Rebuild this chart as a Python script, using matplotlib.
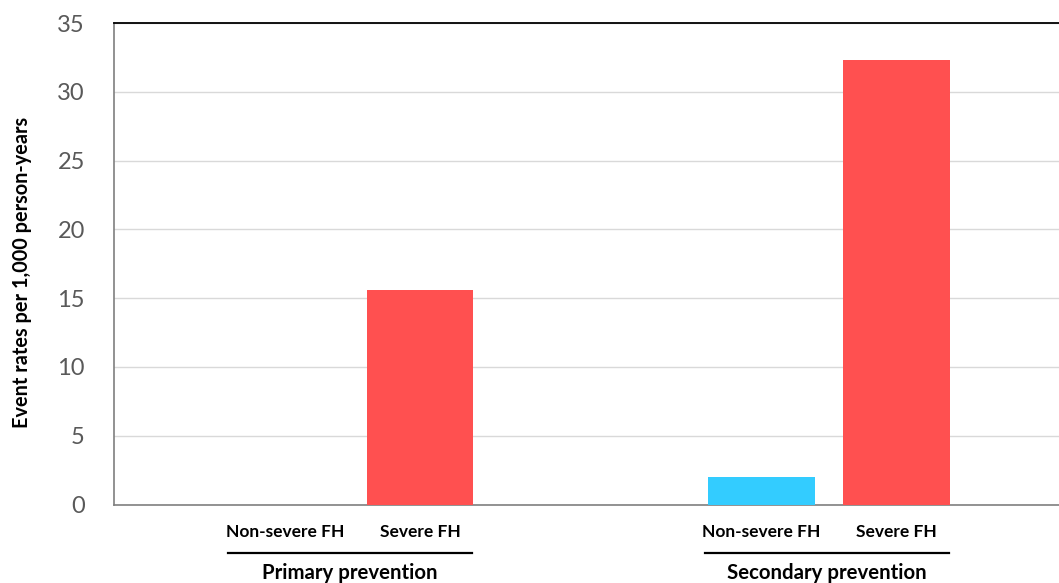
import matplotlib.pyplot as plt

# Datos de la figura
groups = ['Primary prevention', 'Secondary prevention']
subgroups = ['Non-severe FH', 'Severe FH']
primary = [0.0, 15.6]
secondary = [2.0, 32.3]
bar_colors = ['#33CCFF', '#FF5050']
yticks = [0, 5, 10, 15, 20, 25, 30, 35]

plt.rcParams['font.family'] = ['Lato', 'DejaVu Sans']

W, H = 1059, 583
fig = plt.figure(figsize=(W / 100, H / 100), dpi=100)
ax = fig.add_axes([114 / W, 1 - 504.5 / H, (W - 114) / W, (504.5 - 23) / H])

group_gap = 3.53
trans = ax.get_xaxis_transform()
for gi, vals in enumerate([primary, secondary]):
    xs = [gi * group_gap + si for si in range(len(vals))]
    ax.bar(xs, vals, width=0.79, color=bar_colors, linewidth=0, zorder=3)
    for x, name in zip(xs, subgroups):
        ax.text(x, -0.057, name, transform=trans, ha='center', va='center',
                fontsize=12.5, fontweight='bold')
    # linea bajo las categorias
    ax.plot([xs[0] - 0.42, xs[-1] + 0.385], [-0.1007, -0.1007], transform=trans,
            color='black', lw=1.6, clip_on=False)
    ax.text((xs[0] - 0.42 + xs[-1] + 0.385) / 2, -0.143, groups[gi], transform=trans,
            ha='center', va='center', fontsize=14.7, fontweight='bold')

ax.set_xlim(-1.267, 5.733)
ax.set_ylim(0, 35)
ax.set_yticks(yticks)
ax.set_xticks([])
ax.yaxis.grid(True, color='#d9d9d9', lw=1, zorder=0)
ax.tick_params(axis='y', length=0, pad=21, labelsize=17, labelcolor='#595959')

ax.spines['right'].set_visible(False)
ax.spines['top'].set_color('black')
ax.spines['top'].set_linewidth(1.3)
for s in ['left', 'bottom']:
    ax.spines[s].set_color('#7f7f7f')
    ax.spines[s].set_linewidth(1.2)

fig.text(22 / W, 1 - 272 / H, 'Event rates per 1,000 person-years', rotation=90,
         ha='center', va='center', fontsize=14.3, fontweight='bold')

fig.savefig('out.png', dpi=100)
